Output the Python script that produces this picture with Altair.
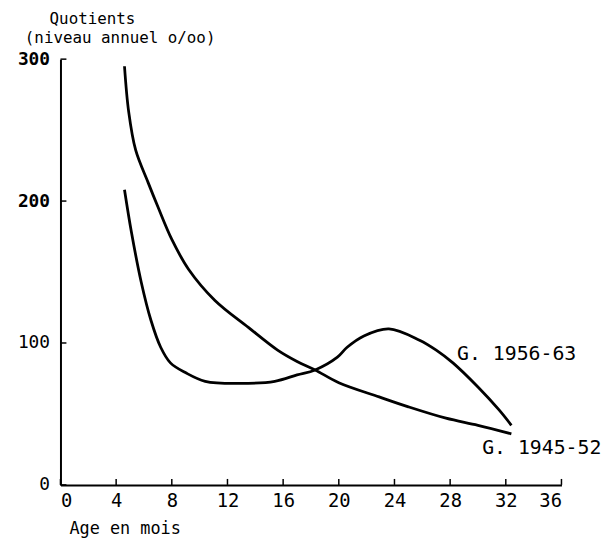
import altair as alt
import pandas as pd

# Data
months_4552 = [4.6, 4.9, 5.4, 6.3, 7.0, 8.0, 9.2, 11.1, 13.5, 15.6, 17.0, 18.3, 20.0, 22.9, 25.0, 27.7, 30.0, 32.4]
values_4552 = [295, 263, 236, 213, 196, 173, 152, 130, 111, 95, 87, 81, 72, 62, 55, 47, 42, 36]

months_5663 = [4.6, 5.1, 5.8, 6.5, 7.2, 7.9, 9.0, 10.4, 12.7, 15.4, 17.0, 18.3, 19.9, 20.6, 21.8, 23.6, 25.8, 27.0, 28.2, 30.0, 31.5, 32.4]
values_5663 = [208, 178, 143, 116, 97, 86, 79, 73, 71.5, 73, 77.5, 81, 90, 97, 105, 110, 102, 95, 86, 69, 53, 42]

x_ticks = [0, 4, 8, 12, 16, 20, 24, 28, 32, 36]
y_ticks = [0, 100, 200, 300]

series_labels = ["G. 1956-63", "G. 1945-52"]
label_x = [28.5, 30.3]
label_y = [92, 26]

W, H = 506, 430
FONT = "DejaVu Sans Mono"

df = pd.concat([
    pd.DataFrame({"month": months_4552, "value": values_4552, "series": "G. 1945-52"}),
    pd.DataFrame({"month": months_5663, "value": values_5663, "series": "G. 1956-63"}),
])
lab = pd.DataFrame({"month": label_x, "value": label_y, "text": series_labels})

xs = alt.Scale(domain=[0, 36], nice=False)
ys = alt.Scale(domain=[0, 300], nice=False)

lines = alt.Chart(df).mark_line(color="black", strokeWidth=2.8, interpolate="catmull-rom").encode(
    x=alt.X("month:Q", scale=xs, axis=alt.Axis(
        values=x_ticks, ticks=False, grid=False, domainColor="black", domainWidth=2,
        labelFont=FONT, labelFontSize=19, labelColor="black", labelPadding=7,
        title=None)),
    y=alt.Y("value:Q", scale=ys, axis=alt.Axis(
        values=y_ticks, ticks=False, grid=False, domainColor="black", domainWidth=2,
        labelFont=FONT, labelFontSize=18,
        labelFontWeight={"condition": {"test": "datum.value >= 200", "value": "bold"}, "value": "normal"},
        labelColor="black", labelPadding=11, title=None)),
    detail="series:N",
)

xtick_df = pd.DataFrame({"month": x_ticks})
xticks = alt.Chart(xtick_df).mark_rule(color="black", strokeWidth=1.5).encode(
    x=alt.X("month:Q", scale=xs), y=alt.value(H), y2=alt.value(H - 6))

ytick_df = pd.DataFrame({"value": y_ticks})
yticks = alt.Chart(ytick_df).mark_rule(color="black", strokeWidth=1.5).encode(
    y=alt.Y("value:Q", scale=ys), x=alt.value(0), x2=alt.value(6))

labels = alt.Chart(lab).mark_text(align="left", baseline="middle", font=FONT, fontSize=20, color="black").encode(
    x=alt.X("month:Q", scale=xs), y=alt.Y("value:Q", scale=ys), text="text:N")

title1 = alt.Chart(pd.DataFrame({"t": ["Quotients"]})).mark_text(
    align="left", baseline="middle", font=FONT, fontSize=16, color="black").encode(
    text="t:N", x=alt.value(-11), y=alt.value(-41))
title2 = alt.Chart(pd.DataFrame({"t": ["(niveau annuel o/oo)"]})).mark_text(
    align="left", baseline="middle", font=FONT, fontSize=16, color="black").encode(
    text="t:N", x=alt.value(-36), y=alt.value(-21))
xtitle = alt.Chart(pd.DataFrame({"t": ["Age en mois"]})).mark_text(
    align="left", baseline="middle", font=FONT, fontSize=17, color="black").encode(
    text="t:N", x=alt.value(9), y=alt.value(H + 45))

chart = alt.layer(lines, xticks, yticks, labels, title1, title2, xtitle).properties(
    width=W, height=H,
    autosize=alt.AutoSizeParams(type="none"),
    padding={"left": 53, "top": 49, "right": 47, "bottom": 54},
).configure(background="white", view=alt.ViewConfig(strokeWidth=0, stroke="transparent"))

chart.save("out.html", embed_options={"renderer": "svg", "actions": False})
